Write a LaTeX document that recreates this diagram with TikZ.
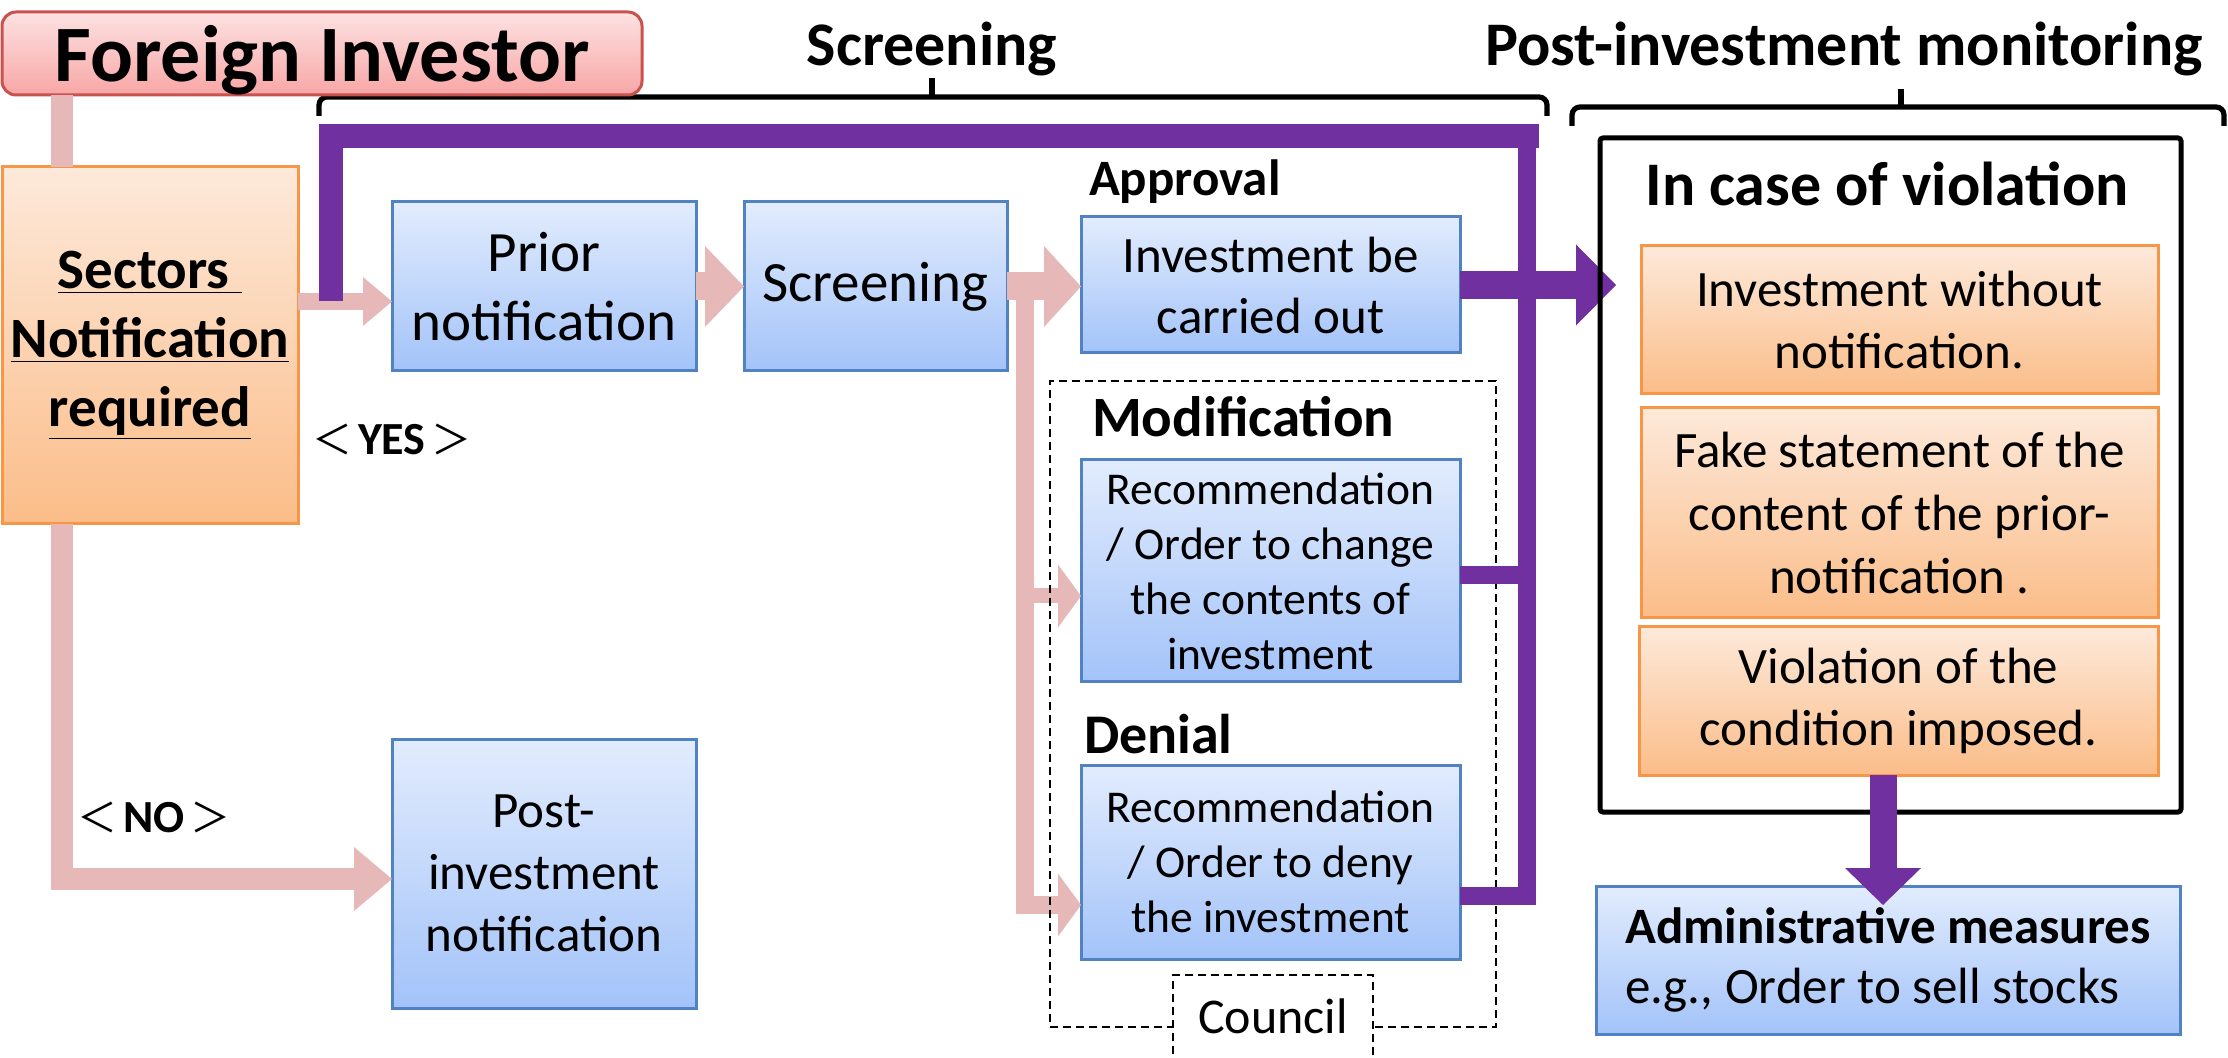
\documentclass[tikz,border=0pt]{standalone}
\usepackage{fontspec}
\setmainfont{Carlito}
\newfontfamily\cjkfont{Noto Sans CJK JP}
\usetikzlibrary{arrows.meta,calc}
\definecolor{bluetop}{HTML}{E2ECFD}
\definecolor{bluebot}{HTML}{A3C3F9}
\definecolor{bluebd}{HTML}{5183C3}
\definecolor{ortop}{HTML}{FDE9DA}
\definecolor{orbot}{HTML}{FBBD89}
\definecolor{orbd}{HTML}{F79646}
\definecolor{fitop}{HTML}{FDE2E2}
\definecolor{fibot}{HTML}{F8A6A6}
\definecolor{fibd}{HTML}{C9524F}
\definecolor{pinkc}{HTML}{E6B9B8}
\definecolor{purp}{HTML}{7030A0}
\newcommand{\mybox}[7]{\node[#6, minimum width={((#4)-(#2))*0.5pt}, minimum height={((#5)-(#3))*0.5pt}] (#1) at ({((#2)+(#4))/2},{((#3)+(#5))/2}) {#7};}
\tikzset{
  bluebox/.style={draw=bluebd, line width=1.5pt, top color=bluetop, bottom color=bluebot, inner sep=0pt, outer sep=0pt, align=center},
  orbox/.style={draw=orbd, line width=1.5pt, top color=ortop, bottom color=orbot, inner sep=0pt, outer sep=0pt, align=center},
  fibox/.style={draw=fibd, line width=1.5pt, top color=fitop, bottom color=fibot, rounded corners=7pt, inner sep=0pt, outer sep=0pt},
  violbox/.style={draw=black, line width=2.5pt, rounded corners=1.5pt, inner sep=0pt, outer sep=0pt},
  dashbox/.style={draw=black, line width=0.9pt, dash pattern=on 4pt off 2.5pt, inner sep=0pt, outer sep=0pt},
  txt/.style={inner sep=0pt, outer sep=0pt},
  hdr/.style={txt, font=\fontsize{31pt}{37pt}\selectfont\bfseries},
  brk/.style={draw=black, line width=2.6pt, rounded corners=4pt},
  pk/.style={draw=pinkc, line width=#1},
  pu/.style={draw=purp, line width=#1},
  fs285/.style={font=\fontsize{28.5pt}{34.5pt}\selectfont},
  fs255/.style={font=\fontsize{25.5pt}{31pt}\selectfont},
  fs23/.style={font=\fontsize{22.75pt}{27.5pt}\selectfont},
  yn/.style={txt, font=\fontsize{23pt}{27pt}\selectfont\bfseries},
}
\newcommand{\fwl}{{\fontsize{20pt}{24pt}\selectfont\mdseries\cjkfont ＜}\hspace{3pt}}
\newcommand{\fwr}{\hspace{3pt}{\fontsize{20pt}{24pt}\selectfont\mdseries\cjkfont ＞}}
\begin{document}
\begin{tikzpicture}[x=0.5pt,y=-0.5pt]
\useasboundingbox (0,0) rectangle (2228,1058);
\clip (0,0) rectangle (2228,1058);

% headers and brackets
\node[hdr, anchor=base] (hscr) at (932,66) {Screening};
\node[hdr, anchor=base west] (hpost) at (1485,66) {Post-investment monitoring};
\draw[brk] (319,116) -- (319,97) -- (1547,97) -- (1547,116);
\draw[draw=black, line width=2.6pt] (932,98) -- (932,78);
\draw[brk] (1572,126) -- (1572,107) -- (2224,107) -- (2224,126);
\draw[draw=black, line width=2.6pt] (1901,108) -- (1901,89);

% boxes
\mybox{fi}{2}{12}{642}{95}{fibox, font=\fontsize{40pt}{48pt}\selectfont\bfseries, text depth=0pt}{Foreign Investor}
\mybox{sec}{2}{167}{298}{524}{orbox, font=\fontsize{28.5pt}{34.5pt}\selectfont\bfseries}{\underline{Sectors\ }\\\underline{Notification}\\\underline{required}}
\mybox{prior}{392}{202}{696}{371}{bluebox, fs285}{Prior\\notification}
\mybox{scr}{744}{202}{1007}{371}{bluebox, fs285}{Screening}
\mybox{appr}{1081}{217}{1460}{353}{bluebox, font=\fontsize{25.5pt}{30.5pt}\selectfont}{Investment be\\carried out}
\mybox{mod}{1081}{460}{1460}{682}{bluebox, fs23}{Recommendation\\/ Order to change\\the contents of\\investment}
\mybox{den}{1081}{765}{1460}{959}{bluebox, fs23}{Recommendation\\/ Order to deny\\the investment}
\mybox{post}{392}{739}{696}{1008}{bluebox, fs255}{Post-\\investment\\notification}

% labels
\node[txt, anchor=base west, font=\fontsize{25.5pt}{30pt}\selectfont\bfseries] (lappr) at (1089,196) {Approval};
\node[txt, anchor=base west, font=\fontsize{28.5pt}{34pt}\selectfont\bfseries] (lmod) at (1092,437) {Modification};
\node[txt, anchor=base west, font=\fontsize{28pt}{34pt}\selectfont\bfseries] (lden) at (1084,754) {Denial};
\node[yn, anchor=base west] (lyes) at (312,455) {\fwl YES\fwr};
\node[yn, anchor=base west] (lno) at (77,832) {\fwl NO\fwr};

% pink connectors
\coordinate (vx) at (62,0);
\coordinate (yY) at (0,301.5);
\coordinate (yN) at (0,879);
\coordinate (bx) at (1025,0);
\coordinate (yM) at (0,596);
\coordinate (yD) at (0,905);
\draw[pk=11pt] (fi.south -| vx) -- (sec.north -| vx);
\draw[pk=8.5pt, -{Triangle[width=24.5pt,length=14.5pt,line width=0pt]}] (sec.east |- yY) -- (prior.west |- yY);
\draw[pk=11pt, -{Triangle[width=32pt,length=19pt,line width=0pt]}] (sec.south -| vx) |- (post.west |- yN);
\draw[pk=14pt, -{Triangle[width=40.5pt,length=19.5pt,line width=0pt]}] (prior.east) -- (scr.west |- prior.east);
\draw[pk=14pt, -{Triangle[width=40.5pt,length=18.5pt,line width=0pt]}] (scr.east) -- (appr.west |- scr.east);
\draw[pk=9pt, -{Triangle[width=31.5pt,length=11.5pt,line width=0pt]}] (bx |- scr.east) |- (den.west |- yD);
\draw[pk=7.5pt, -{Triangle[width=31.5pt,length=11.5pt,line width=0pt]}] (bx |- yM) -- (mod.west |- yM);

% council region
\mybox{creg}{1050}{381}{1496}{1027}{dashbox}{}
\node[dashbox, fill=white, minimum width=100pt, minimum height=70pt, anchor=north] (council) at (1273,975) {};
\node[txt, anchor=base, font=\fontsize{25pt}{30pt}\selectfont] (ctxt) at (1273,1033) {Council};

% purple connectors
\coordinate (pstart) at (331,301);
\coordinate (ptop) at (1539,136.5);
\coordinate (rx) at (1527,0);
\coordinate (ytop) at (0,124);
\coordinate (yPM) at (0,575);
\coordinate (yPD) at (0,896);
\coordinate (ptip) at (1616,0);
\draw[pu=12pt] (pstart) |- (ptop);
\draw[pu=9pt] (den.east |- yPD) -| (rx |- ytop);
\draw[pu=9pt] (mod.east |- yPM) -- (rx |- yPM);
\draw[pu=14pt, -{Triangle[width=40.5pt,length=20pt,line width=0pt]}] (appr.east) -- (ptip |- appr.east);

% post-investment monitoring
\mybox{viol}{1600}{138}{2181}{812}{violbox}{}
\node[txt, anchor=base, font=\fontsize{31pt}{37pt}\selectfont\bfseries] (lviol) at (1887,206) {In case of violation};
\mybox{o1}{1641}{246}{2158}{394}{orbox, fs255}{Investment without\\notification.}
\mybox{o2}{1641}{408}{2158}{618}{orbox, font=\fontsize{25.5pt}{31.5pt}\selectfont}{Fake statement of the\\content of the prior-\\notification .}
\mybox{o3}{1639}{627}{2158}{775}{orbox, fs255}{Violation of the\\condition imposed.}
\mybox{adm}{1596}{886}{2180}{1034}{bluebox, align=left, font=\fontsize{25.5pt}{30pt}\selectfont}{\textbf{Administrative measures}\\e.g., Order to sell stocks}
\coordinate (ax) at (1883,0);
\coordinate (yA) at (0,905);
\draw[pu=13.5pt, -{Triangle[width=38pt,length=18.5pt,line width=0pt]}] (o3.south -| ax) -- (ax |- yA);
\end{tikzpicture}
\end{document}
